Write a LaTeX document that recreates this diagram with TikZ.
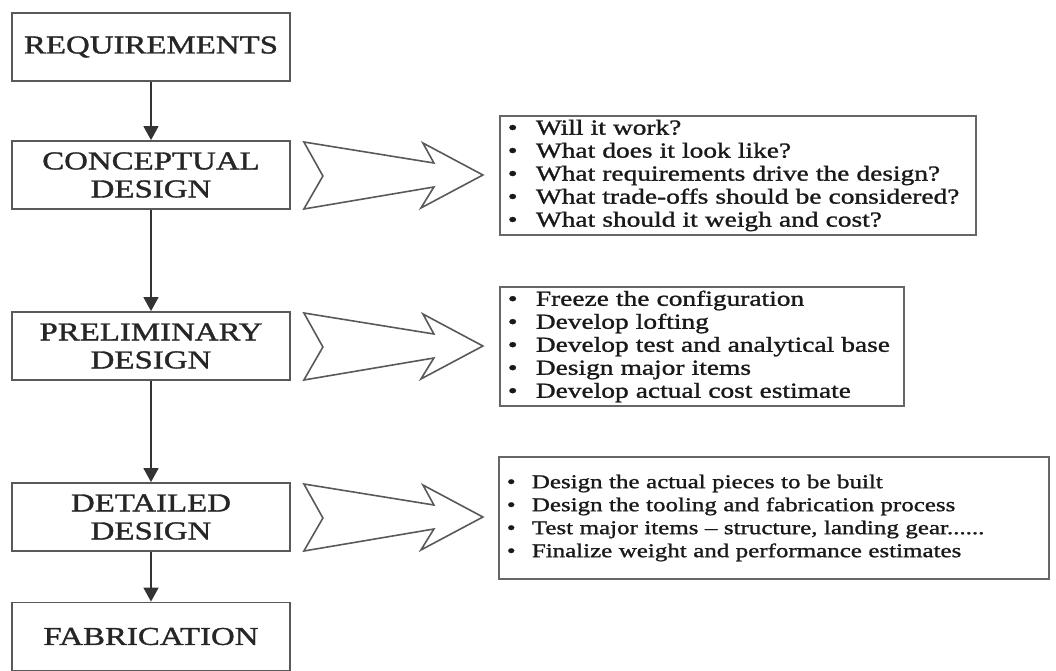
\documentclass[tikz,border=0pt]{standalone}
\usepackage{fontspec}
\setmainfont{Liberation Serif}[FakeStretch=1.28,FakeBold=1.3]
\usetikzlibrary{arrows.meta}

\newcommand{\bitem}[2][28pt]{\makebox[#1][l]{\textbullet}#2}

\begin{document}
\begin{tikzpicture}
[
x=1pt, y=-1pt,
stage/.style={draw=black!65,line width=1.8pt,minimum width=278pt,minimum height=68pt,
              inner sep=2pt,align=center,text=black!85,font=\fontsize{25.7}{28}\selectfont},
notes/.style 2 args={draw=black!60,line width=1.8pt,anchor=west,text width=#1,minimum height=#2,
              inner xsep=8pt,inner ysep=0pt,align=left,text=black!90},
flow/.style={draw=black!80,line width=1.6pt,-{Triangle[length=14pt,width=15pt]}},
chevron/.pic={
            \draw[black!65,line width=1.6pt,line join=miter]
                  (0,-33) -- (130,-12) -- (119,-32) -- (179,0) -- (117,33)
                  -- (130,12) -- (0,34) -- (19,1) -- cycle;
},
]
\useasboundingbox (0,0) rectangle (1056,671);

%Place the nodes
\node[stage] (req) at (151,47) {REQUIREMENTS};
\node[stage] (concept) at (151,175) {CONCEPTUAL\\DESIGN};
\node[stage] (prelim) at (151,346) {PRELIMINARY\\DESIGN};
\node[stage] (detail) at (151,517) {DETAILED\\DESIGN};
\node[stage] (fab) at (151,636.5) {FABRICATION};

\node[notes={460pt}{119pt},font=\fontsize{21.4}{23}\selectfont] (qconcept) at (499,175.5) {%
\bitem{Will it work?}\\
\bitem{What does it look like?}\\
\bitem{What requirements drive the design?}\\
\bitem{What trade-offs should be considered?}\\
\bitem{What should it weigh and cost?}};
\node[notes={388pt}{119pt},font=\fontsize{21.4}{23}\selectfont] (qprelim) at (499,346.5) {%
\bitem{Freeze the configuration}\\
\bitem{Develop lofting}\\
\bitem{Develop test and analytical base}\\
\bitem{Design major items}\\
\bitem{Develop actual cost estimate}};
\node[notes={534pt}{122pt},font=\fontsize{19.5}{23}\selectfont] (qdetail) at (498,518) {%
\bitem[25pt]{Design the actual pieces to be built}\\
\bitem[25pt]{Design the tooling and fabrication process}\\
\bitem[25pt]{Test major items -- structure, landing gear......}\\
\bitem[25pt]{Finalize weight and performance estimates}};

%Draw the connections
\draw[flow] (req) -- (concept);
\draw[flow] (concept) -- (prelim);
\draw[flow] (prelim) -- (detail);
\draw[flow] (detail) -- (fab);

\pic at ([xshift=13pt]concept.east) {chevron};
\pic at ([xshift=13pt]prelim.east) {chevron};
\pic at ([xshift=13pt]detail.east) {chevron};
\end{tikzpicture}
\end{document}
